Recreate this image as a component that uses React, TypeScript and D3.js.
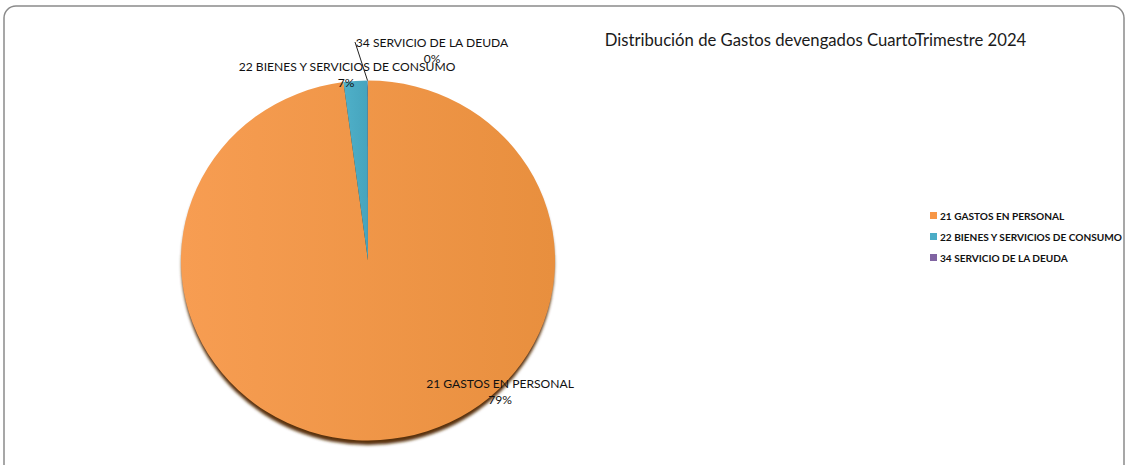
import React from "react";
import * as d3 from "d3";

const categories = ["21 GASTOS EN PERSONAL", "22 BIENES Y SERVICIOS DE CONSUMO", "34 SERVICIO DE LA DEUDA"];
const values = [97.9, 2.08, 0.02];
const percentLabels = ["79%", "7%", "0%"];
const colors = ["#F79646", "#4BACC6", "#8064A2"];
const title = "Distribución de Gastos devengados CuartoTrimestre 2024";

const W = 1128;
const H = 465;
const cx = 368;
const cy = 260.5;
const R = 180;
const sx = 1.039;
const font = "Lato, 'Open Sans', 'Liberation Sans', sans-serif";

export default function App() {
  const pie = d3.pie<number>().sort(null).value((d) => d);
  const arcs = pie(values);
  const arc = d3.arc<d3.PieArcDatum<number>>().innerRadius(0).outerRadius(R);

  const labelPos = [
    { x: 500, y: 388, px: 500 },
    { x: 347, y: 71, px: 346 },
    { x: 432, y: 47, px: 432 },
  ];

  return (
    <svg
      width={W}
      height={H}
      style={{ position: "absolute", left: 0, top: 0, background: "#fff" }}
      fontFamily={font}
    >
      <defs>
        <linearGradient id="gOrange" x1="0" x2="1" y1="0" y2="0">
          <stop offset="0%" stopColor="#F79D52" />
          <stop offset="100%" stopColor="#E88F3E" />
        </linearGradient>
        <linearGradient id="gBlue" x1="0" x2="1" y1="0" y2="0">
          <stop offset="0%" stopColor="#4FB0C9" />
          <stop offset="100%" stopColor="#46A4BD" />
        </linearGradient>
        <linearGradient id="gPurple" x1="0" x2="1" y1="0" y2="0">
          <stop offset="0%" stopColor="#8468A6" />
          <stop offset="100%" stopColor="#7A5F9C" />
        </linearGradient>
        <filter id="shadow" x="-20%" y="-20%" width="140%" height="140%">
          <feGaussianBlur stdDeviation="1.4" />
        </filter>
      </defs>

      <rect
        x={4}
        y={6}
        width={1120}
        height={475}
        rx={12}
        ry={12}
        fill="none"
        stroke="#8a8a8a"
        strokeWidth={1.5}
      />

      <text x={815.5} y={46} textAnchor="middle" fontSize={16.7} fill="#1a1a1a">
        {title}
      </text>

      <g transform={`translate(${cx},${cy}) scale(${sx},1)`}>
        <ellipse cx={0} cy={4.5} rx={R - 0.5} ry={R} fill="#5a3210" filter="url(#shadow)" />
        {arcs.map((a, i) => (
          <path
            key={i}
            d={arc(a) || ""}
            fill={i === 0 ? "url(#gOrange)" : i === 1 ? "url(#gBlue)" : "url(#gPurple)"}
          />
        ))}
      </g>

      <line x1={355} y1={42} x2={cx - 0.5} y2={cy - R} stroke="#222" strokeWidth={1} />

      {categories.map((c, i) => (
        <g key={c}>
          <text
            x={labelPos[i].x}
            y={labelPos[i].y}
            textAnchor="middle"
            fontSize={12.1}
            fill="#111"
          >
            {c}
          </text>
          <text
            x={labelPos[i].px}
            y={labelPos[i].y + 16}
            textAnchor="middle"
            fontSize={12.1}
            fill="#111"
          >
            {percentLabels[i]}
          </text>
        </g>
      ))}

      <g>
        {categories.map((c, i) => (
          <g key={c} transform={`translate(930,${216 + i * 21})`}>
            <rect x={0} y={-4} width={7} height={7} fill={colors[i]} />
            <text x={10} y={3.6} fontSize={10.1} fontWeight="bold" fill="#111">
              {c}
            </text>
          </g>
        ))}
      </g>
    </svg>
  );
}
